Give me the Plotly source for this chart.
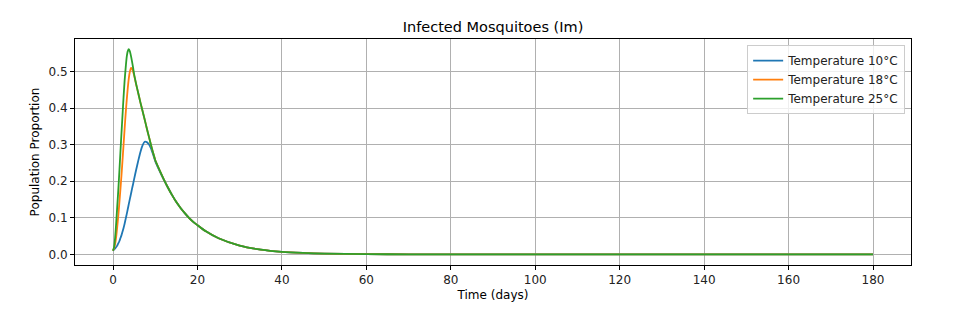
import plotly.graph_objects as go

time_days = [0, 0.25, 0.5, 0.75, 1, 1.25, 1.5, 1.75, 2, 2.25, 2.5, 2.75, 3, 3.25, 3.5, 3.75,
             4, 4.25, 4.5, 4.75, 5,
             5.5, 6, 6.5, 7, 7.5, 8, 8.5, 9, 9.5, 10,
             11, 12, 13, 14, 15, 16, 17, 18, 19, 20,
             22, 25, 30, 35, 40, 45, 50, 60, 70, 80, 90, 100, 120, 140, 160, 180]

im_10c = [0.010, 0.013, 0.016, 0.020, 0.024, 0.030, 0.036, 0.044, 0.052, 0.062, 0.072, 0.084,
          0.097, 0.110, 0.124, 0.138, 0.152, 0.165, 0.179, 0.192, 0.206,
          0.232, 0.257, 0.280, 0.298, 0.308, 0.307, 0.301, 0.290, 0.273, 0.255,
          0.229, 0.205, 0.183, 0.162, 0.143, 0.127, 0.113, 0.100, 0.089, 0.080,
          0.063, 0.044, 0.024, 0.013, 0.007, 0.004, 0.002, 0.0007, 0.0002, 0.0001,
          0.0, 0.0, 0.0, 0.0, 0.0, 0.0]

im_18c = [0.010, 0.017, 0.028, 0.048, 0.075, 0.105, 0.140, 0.177, 0.215, 0.257, 0.300, 0.343,
          0.385, 0.422, 0.455, 0.482, 0.500, 0.510, 0.508, 0.500, 0.490,
          0.464, 0.440, 0.415, 0.392, 0.369, 0.345, 0.322, 0.299, 0.278, 0.258,
          0.231, 0.206, 0.183, 0.162, 0.143, 0.127, 0.113, 0.100, 0.089, 0.080,
          0.063, 0.044, 0.024, 0.013, 0.007, 0.004, 0.002, 0.0007, 0.0002, 0.0001,
          0.0, 0.0, 0.0, 0.0, 0.0, 0.0]

im_25c = [0.010, 0.020, 0.045, 0.085, 0.130, 0.175, 0.225, 0.278, 0.330, 0.380, 0.430, 0.475,
          0.510, 0.540, 0.556, 0.561, 0.555, 0.543, 0.528, 0.511, 0.493,
          0.465, 0.440, 0.415, 0.392, 0.369, 0.345, 0.322, 0.299, 0.278, 0.258,
          0.231, 0.206, 0.183, 0.162, 0.143, 0.127, 0.113, 0.100, 0.089, 0.080,
          0.063, 0.044, 0.024, 0.013, 0.007, 0.004, 0.002, 0.0007, 0.0002, 0.0001,
          0.0, 0.0, 0.0, 0.0, 0.0, 0.0]

series_names = ["Temperature 10°C", "Temperature 18°C", "Temperature 25°C"]
series_colors = ["#1f77b4", "#ff7f0e", "#2ca02c"]
x_ticks = [0, 20, 40, 60, 80, 100, 120, 140, 160, 180]
y_ticks = [0.0, 0.1, 0.2, 0.3, 0.4, 0.5]

FONT = "DejaVu Sans"

fig = go.Figure()
for name, color, vals in zip(series_names, series_colors, [im_10c, im_18c, im_25c]):
    fig.add_trace(go.Scatter(
        x=time_days, y=vals, mode="lines", name=name,
        line=dict(color=color, width=1.8, shape="spline", smoothing=0.5),
    ))

# page body has an 8px margin: figure is 946x303 placed at (8, 8)
W, H = 946, 303
fig.update_layout(
    width=W, height=H,
    paper_bgcolor="white", plot_bgcolor="white",
    margin=dict(l=67, r=43, t=31, b=46),
    font=dict(family=FONT, size=12, color="black"),
    title=dict(text="Infected Mosquitoes (Im)", x=(67 + (W - 43)) / 2 / W, xanchor="center",
               y=1 - 19 / H, yanchor="middle", font=dict(size=14.5, family=FONT, color="black")),
    showlegend=True,
    legend=dict(x=0.993, xanchor="right", y=0.973, yanchor="top",
                bgcolor="rgba(255,255,255,0.8)", bordercolor="#cccccc", borderwidth=1,
                font=dict(size=12, family=FONT, color="#222"), itemwidth=30,
                tracegroupgap=0),
)
fig.update_xaxes(
    range=[-9, 189], tickvals=x_ticks, ticktext=[str(v) for v in x_ticks],
    showgrid=True, gridcolor="#b0b0b0", gridwidth=0.8,
    showline=True, linecolor="black", linewidth=1, mirror=True,
    ticks="outside", ticklen=4, tickcolor="black", zeroline=False,
    title=dict(text="Time (days)", standoff=4, font=dict(size=12, family=FONT)),
    tickfont=dict(size=12, family=FONT, color="#222"),
)
fig.update_yaxes(
    range=[-0.029, 0.589], tickvals=y_ticks, ticktext=[f"{v:.1f}" for v in y_ticks],
    showgrid=True, gridcolor="#b0b0b0", gridwidth=0.8,
    showline=True, linecolor="black", linewidth=1, mirror=True,
    ticks="outside", ticklen=4, tickcolor="black", zeroline=False,
    title=dict(text="Population Proportion", standoff=6, font=dict(size=12, family=FONT)),
    tickfont=dict(size=12, family=FONT, color="#222"),
)

fig.write_html("out.html")
